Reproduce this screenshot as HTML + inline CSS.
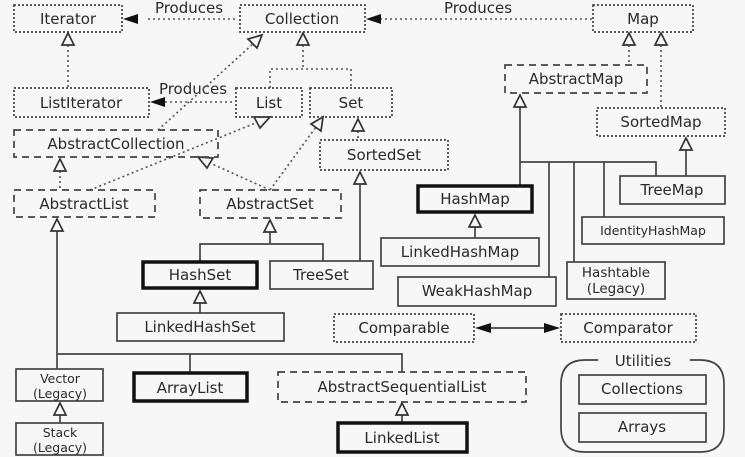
<!DOCTYPE html>
<html><head><style>
html,body{margin:0;padding:0;background:#f7f7f7;}
svg{display:block;}
text{font-family:"DejaVu Sans","Liberation Sans",sans-serif;font-size:15px;fill:#2a2a2a;text-anchor:middle;}
.dot{fill:none;stroke:#444;stroke-width:1.7;stroke-dasharray:2 2;}
.dash{fill:none;stroke:#444;stroke-width:1.7;stroke-dasharray:7 5;}
.sol{fill:none;stroke:#444;stroke-width:1.7;}
.thk{fill:none;stroke:#111;stroke-width:3.5;}
.ln{fill:none;stroke:#444;stroke-width:1.7;}
.dl{fill:none;stroke:#555;stroke-width:1.6;stroke-dasharray:2 3;}
.tri{fill:#f7f7f7;stroke:#333;stroke-width:1.7;}
.fa{fill:#111;}
</style></head><body>
<svg width="745" height="457" viewBox="0 0 745 457">
<line class="dl" x1="148" y1="19" x2="238" y2="19"/>
<polygon class="fa" points="123,19 138,14 138,24"/>
<text x="189" y="13">Produces</text>
<line class="dl" x1="380" y1="19" x2="592" y2="19"/>
<polygon class="fa" points="366,19 381,14 381,24"/>
<text x="478" y="13">Produces</text>
<line class="dl" x1="165" y1="102" x2="235" y2="102"/>
<polygon class="fa" points="150,102 165,97 165,107"/>
<text x="193" y="94">Produces</text>
<line class="dl" x1="68" y1="45" x2="68" y2="88"/>
<polygon class="tri" points="68,33 62,45 74,45"/>
<polyline class="dl" points="270,88 270,69 351,69 351,88"/>
<line class="dl" x1="303" y1="45" x2="303" y2="69"/>
<polygon class="tri" points="303,33 297,45 309,45"/>
<line class="dl" x1="158" y1="130" x2="254" y2="43"/>
<polygon class="tri" points="262,35 248,39 257,48"/>
<line class="dl" x1="90" y1="190" x2="258" y2="122"/>
<polygon class="tri" points="270,117 254,117 260,128"/>
<line class="dl" x1="270" y1="190" x2="316" y2="127"/>
<polygon class="tri" points="323,117 311,124 321,131"/>
<line class="dl" x1="270" y1="190" x2="210" y2="163"/>
<polygon class="tri" points="198,157 207,168 213,158"/>
<line class="dl" x1="60" y1="171" x2="60" y2="190"/>
<polygon class="tri" points="60,159 54,171 66,171"/>
<line class="dl" x1="358" y1="131" x2="358" y2="140"/>
<polygon class="tri" points="358,119 352,131 364,131"/>
<line class="ln" x1="360" y1="184" x2="360" y2="261"/>
<polygon class="tri" points="360,172 354,184 366,184"/>
<line class="ln" x1="270" y1="232" x2="270" y2="244"/>
<polyline class="ln" points="200,261 200,244 323,244 323,261"/>
<polygon class="tri" points="270,220 264,232 276,232"/>
<line class="ln" x1="200" y1="303" x2="200" y2="313"/>
<polygon class="tri" points="200,291 194,303 206,303"/>
<line class="ln" x1="57" y1="231" x2="57" y2="369"/>
<polyline class="ln" points="57,354 402,354 402,372"/>
<line class="ln" x1="190" y1="354" x2="190" y2="372"/>
<polygon class="tri" points="57,219 51,231 63,231"/>
<line class="ln" x1="60" y1="415" x2="60" y2="423"/>
<polygon class="tri" points="60,403 54,415 66,415"/>
<line class="ln" x1="402" y1="415" x2="402" y2="422"/>
<polygon class="tri" points="402,403 396,415 408,415"/>
<line class="dl" x1="629" y1="45" x2="629" y2="65"/>
<polygon class="tri" points="629,33 623,45 635,45"/>
<line class="dl" x1="661" y1="45" x2="661" y2="108"/>
<polygon class="tri" points="661,33 655,45 667,45"/>
<line class="ln" x1="520" y1="107" x2="520" y2="185"/>
<polygon class="tri" points="520,95 514,107 526,107"/>
<polyline class="ln" points="520,162 656,162 656,176"/>
<line class="ln" x1="549" y1="162" x2="549" y2="277"/>
<line class="ln" x1="574" y1="162" x2="574" y2="262"/>
<line class="ln" x1="604" y1="162" x2="604" y2="217"/>
<line class="ln" x1="686" y1="150" x2="686" y2="176"/>
<polygon class="tri" points="686,138 680,150 692,150"/>
<line class="ln" x1="475" y1="227" x2="475" y2="238"/>
<polygon class="tri" points="475,215 469,227 481,227"/>
<line class="ln" x1="485" y1="328" x2="550" y2="328"/>
<polygon class="fa" points="475,328 491,323 491,333"/>
<polygon class="fa" points="560,328 544,323 544,333"/>

<rect class="dot" x="14" y="5" width="108" height="27"/><text x="68" y="24">Iterator</text>
<rect class="dot" x="240" y="5" width="125" height="27"/><text x="302" y="24">Collection</text>
<rect class="dot" x="593" y="5" width="100" height="27"/><text x="643" y="24">Map</text>
<rect class="dot" x="14" y="88" width="135" height="29"/><text x="81" y="108">ListIterator</text>
<rect class="dot" x="236" y="88" width="66" height="29"/><text x="269" y="108">List</text>
<rect class="dot" x="310" y="88" width="82" height="29"/><text x="351" y="108">Set</text>
<rect class="dash" x="14" y="130" width="204" height="27"/><text x="116" y="149">AbstractCollection</text>
<rect class="dot" x="320" y="140" width="128" height="30"/><text x="384" y="160">SortedSet</text>
<rect class="dash" x="14" y="190" width="141" height="27"/><text x="84" y="209">AbstractList</text>
<rect class="dash" x="200" y="190" width="141" height="28"/><text x="270" y="209">AbstractSet</text>
<rect class="dash" x="505" y="65" width="142" height="28"/><text x="576" y="84">AbstractMap</text>
<rect class="dot" x="597" y="108" width="128" height="28"/><text x="661" y="127">SortedMap</text>
<rect class="thk" x="418" y="186" width="114" height="26"/><text x="475" y="204">HashMap</text>
<rect class="sol" x="620" y="176" width="105" height="28"/><text x="672" y="195">TreeMap</text>
<rect class="sol" x="582" y="217" width="142" height="27"/><text x="653" y="235" style="font-size:12.5px">IdentityHashMap</text>
<rect class="sol" x="381" y="238" width="158" height="28"/><text x="460" y="257">LinkedHashMap</text>
<rect class="sol" x="567" y="262" width="98" height="37"/><text x="616" y="277" style="font-size:13.5px">Hashtable</text><text x="616" y="293" style="font-size:13.5px">(Legacy)</text>
<rect class="sol" x="398" y="277" width="158" height="29"/><text x="477" y="296">WeakHashMap</text>
<rect class="dot" x="334" y="314" width="140" height="28"/><text x="404" y="333">Comparable</text>
<rect class="dot" x="561" y="314" width="135" height="28"/><text x="628" y="333">Comparator</text>
<path class="sol" d="M 585 360 Q 561 360 561 384 L 561 428 Q 561 452 585 452 L 700 452 Q 724 452 724 428 L 724 384 Q 724 360 700 360 Z"/>
<rect x="598" y="352" width="92" height="16" fill="#f7f7f7"/>
<text x="643" y="366">Utilities</text>
<rect class="sol" x="579" y="375" width="127" height="29"/><text x="642" y="394">Collections</text>
<rect class="sol" x="579" y="413" width="127" height="29"/><text x="642" y="432">Arrays</text>
<rect class="thk" x="143" y="262" width="114" height="26"/><text x="200" y="280">HashSet</text>
<rect class="sol" x="270" y="261" width="103" height="28"/><text x="321" y="280">TreeSet</text>
<rect class="sol" x="117" y="313" width="167" height="28"/><text x="200" y="332">LinkedHashSet</text>
<rect class="sol" x="16" y="369" width="87" height="32"/><text x="60" y="383" style="font-size:12.5px">Vector</text><text x="60" y="398" style="font-size:12.5px">(Legacy)</text>
<rect class="sol" x="16" y="423" width="87" height="32"/><text x="60" y="437" style="font-size:12.5px">Stack</text><text x="60" y="452" style="font-size:12.5px">(Legacy)</text>
<rect class="thk" x="134" y="373" width="113" height="28"/><text x="190" y="393">ArrayList</text>
<rect class="dash" x="278" y="372" width="248" height="30"/><text x="402" y="392">AbstractSequentialList</text>
<rect class="thk" x="338" y="423" width="129" height="29"/><text x="402" y="443">LinkedList</text>
</svg>
</body></html>
